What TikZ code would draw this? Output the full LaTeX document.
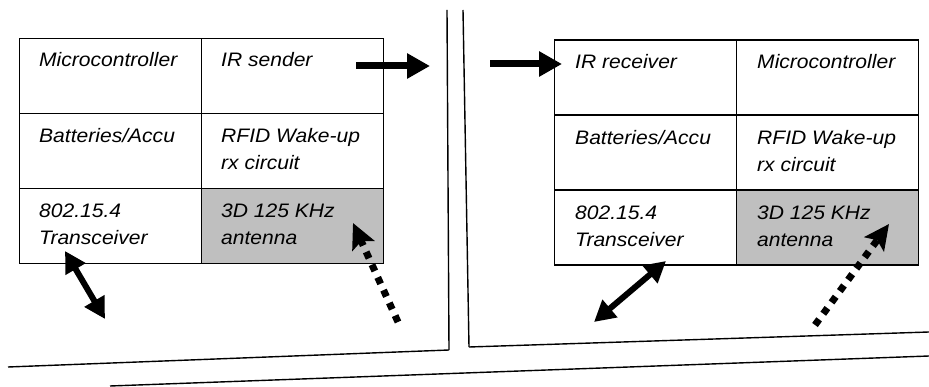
\documentclass[tikz,border=0pt]{standalone}
\usepackage{fontspec}
\setmainfont[FakeStretch=1.08]{Liberation Sans}
\usetikzlibrary{arrows.meta}
\newcommand{\twolines}[2]{\begin{tabular}[t]{@{}l@{}}#1\\[-0.5pt]#2\end{tabular}}
\begin{document}
\begin{tikzpicture}[x=1pt,y=-1pt,
  cell/.style={draw,line width=1.4pt,minimum width=182pt,minimum height=75pt,inner sep=0pt,anchor=north west},
  ant/.style={cell,fill=gray!50!white},
  txt/.style={anchor=base west,inner sep=0pt,font=\fontsize{19.5}{27}\selectfont\itshape},
  big/.style={line width=7pt,-{Triangle[length=23pt,width=24pt]}},
  dbl/.style={line width=6pt,{Triangle[length=21pt,width=22pt]}-{Triangle[length=21pt,width=22pt]}},
  dotarr/.style={line width=7pt,dash pattern=on 7pt off 7pt,-{Stealth[length=25pt,width=24pt,inset=5pt]}},
  rule/.style={line width=1.4pt}]
\useasboundingbox (0,0) rectangle (929,387);
% left table
\node[cell] (l11) at (19,38) {};
\node[cell] (l12) at (201,38) {};
\node[cell] (l21) at (19,113) {};
\node[cell] (l22) at (201,113) {};
\node[cell] (l31) at (19,188) {};
\node[ant] (l32) at (201,188) {};
\node[txt] (t11) at (39,67) {Microcontroller};
\node[txt] (t12) at (221,67) {IR sender};
\node[txt] (t21) at (39,143) {Batteries/Accu};
\node[txt] (t22) at (221,143) {\twolines{RFID Wake-up}{rx circuit}};
\node[txt] (t31) at (39,218) {\twolines{802.15.4}{Transceiver}};
\node[txt] (t32) at (221,218) {\twolines{3D 125 KHz}{antenna}};
% right table
\node[cell] (r11) at (554,39.5) {};
\node[cell] (r12) at (736,39.5) {};
\node[cell] (r21) at (554,114.5) {};
\node[cell] (r22) at (736,114.5) {};
\node[cell] (r31) at (554,189.5) {};
\node[ant] (r32) at (736,189.5) {};
\node[txt] (s11) at (575,69) {IR receiver};
\node[txt] (s12) at (757,69) {Microcontroller};
\node[txt] (s21) at (575,145) {Batteries/Accu};
\node[txt] (s22) at (757,145) {\twolines{RFID Wake-up}{rx circuit}};
\node[txt] (s31) at (575,220) {\twolines{802.15.4}{Transceiver}};
\node[txt] (s32) at (757,220) {\twolines{3D 125 KHz}{antenna}};
% frame lines
\coordinate (v1a) at (447,10);
\coordinate (v1b) at (449,350);
\coordinate (v2a) at (463,10);
\coordinate (v2b) at (469,347);
\coordinate (h1a) at (8,367);
\coordinate (h2b) at (929,332);
\coordinate (h3a) at (110,386);
\coordinate (h3b) at (929,356);
\draw[rule] (v1a) -- (v1b);
\draw[rule] (v2a) -- (v2b);
\draw[rule] (h1a) -- (v1b);
\draw[rule] (v2b) -- (h2b);
\draw[rule] (h3a) -- (h3b);
% arrows
\coordinate (a1s) at (356,66);
\coordinate (a1e) at (430,66);
\draw[big] (a1s) -- (a1e);
\coordinate (a2s) at (490,64);
\coordinate (a2e) at (562,64);
\draw[big] (a2s) -- (a2e);
\coordinate (d1a) at (65,251);
\coordinate (d1b) at (105,319);
\draw[dbl] (d1a) -- (d1b);
\coordinate (d2a) at (594,322);
\coordinate (d2b) at (666,261);
\draw[dbl] (d2a) -- (d2b);
\coordinate (p1s) at (398,322);
\coordinate (p1e) at (353,223);
\draw[dotarr] (p1s) -- (p1e);
\coordinate (p2s) at (815,325);
\coordinate (p2e) at (889,224);
\draw[dotarr] (p2s) -- (p2e);
\end{tikzpicture}
\end{document}
